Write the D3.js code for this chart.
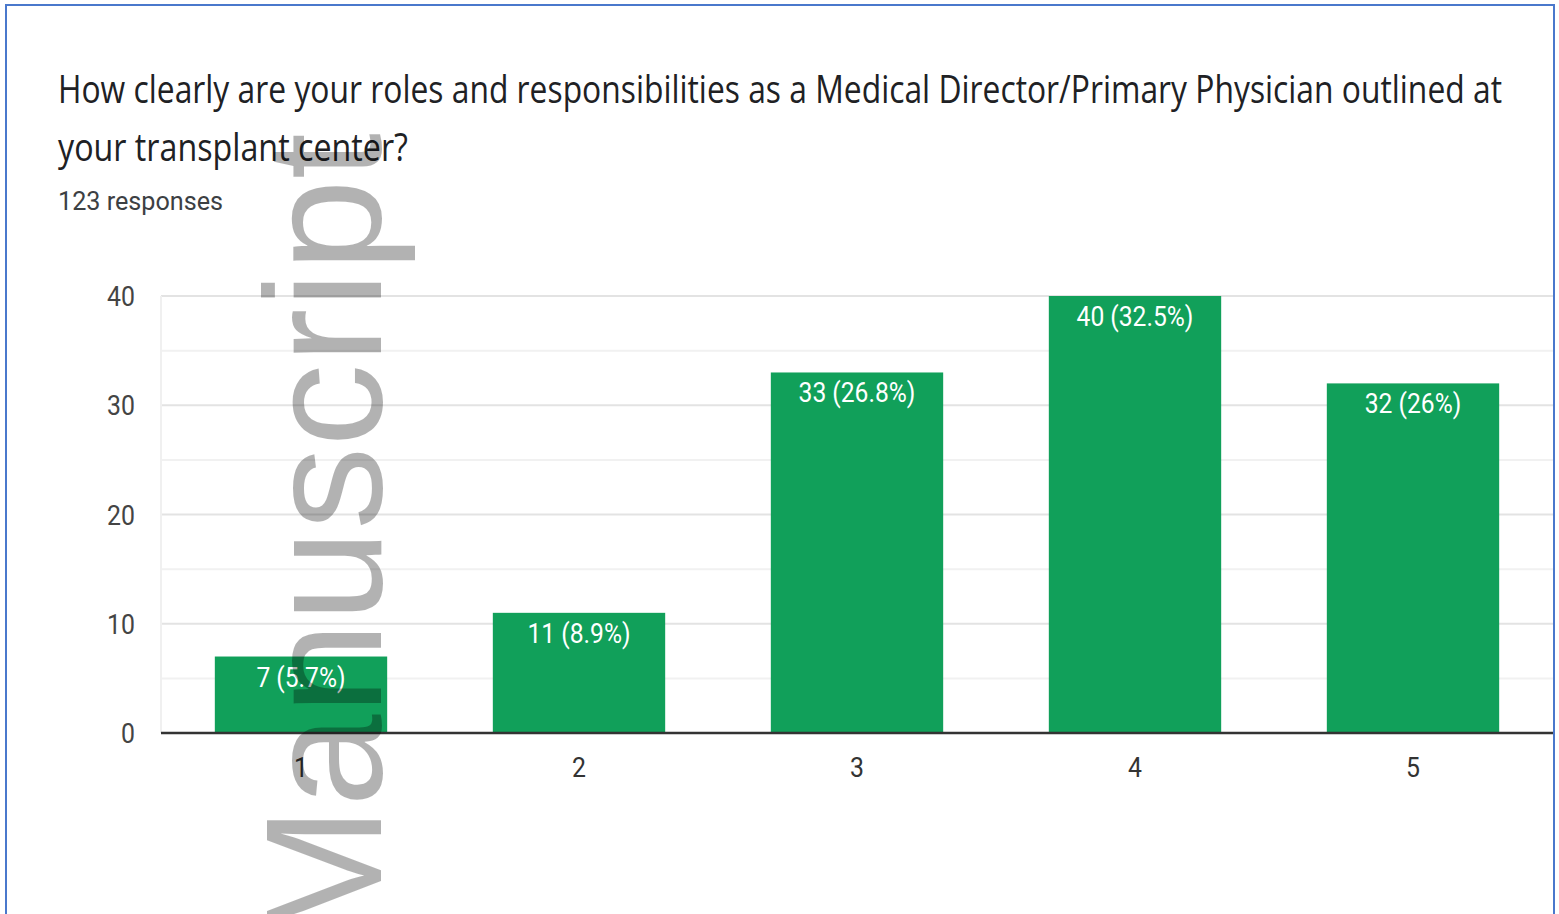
<!DOCTYPE html>
<html>
<head>
<meta charset="utf-8">
<script src="https://cdn.jsdelivr.net/npm/d3@7"></script>
<style>
  body { margin: 0; background: #fff; }
  svg { display: block; }
</style>
</head>
<body>
<svg id="chart"></svg>
<script>
/*global d3*/

const width = 1559;
const height = 914;

// data
const categories = ["1", "2", "3", "4", "5"];
const counts = [7, 11, 33, 40, 32];
const totalResponses = 123;
const yTicks = [0, 10, 20, 30, 40];
const gridValues = [5, 10, 15, 20, 25, 30, 35, 40];

const titleLines = [
    "How clearly are your roles and responsibilities as a Medical Director/Primary Physician outlined at",
    "your transplant center?"
];
const subtitle = totalResponses + " responses";

const plot = { left: 161, right: 1555, top: 296, bottom: 733 };

const svg = d3.select("#chart")
    .attr("width", width)
    .attr("height", height);

svg.append("rect")
    .attr("width", width)
    .attr("height", height)
    .attr("fill", "#fff");

// squeeze text horizontally (the source picture is a bit stretched)
function squeeze(sel, k) {
    sel.each(function () {
        const w = this.getComputedTextLength();
        d3.select(this)
            .attr("textLength", w * k)
            .attr("lengthAdjust", "spacingAndGlyphs");
    });
}

// title
const titleWidths = [1444, 350];
const titleBase = [103, 161];
titleLines.forEach((t, i) => {
    svg.append("text")
        .attr("class", "title")
        .attr("x", 58)
        .attr("y", titleBase[i])
        .attr("textLength", titleWidths[i])
        .attr("lengthAdjust", "spacingAndGlyphs")
        .style("font-family", "'Open Sans', sans-serif")
        .style("font-size", "39px")
        .style("fill", "#202124")
        .text(t);
});

svg.append("text")
    .attr("x", 58)
    .attr("y", 210)
    .attr("textLength", 165)
    .attr("lengthAdjust", "spacingAndGlyphs")
    .style("font-family", "Roboto, sans-serif")
    .style("font-size", "25px")
    .style("fill", "#3c4043")
    .text(subtitle);

const x = d3.scaleBand()
    .domain(categories)
    .range([162, 1552])
    .paddingInner(0.38)
    .paddingOuter(0.19);

const y = d3.scaleLinear()
    .domain([0, 40])
    .range([plot.bottom, plot.top]);

// gridlines
svg.append("g")
    .attr("class", "grid")
    .selectAll("line")
    .data(gridValues)
    .enter()
    .append("line")
    .attr("x1", plot.left)
    .attr("x2", plot.right)
    .attr("y1", d => y(d))
    .attr("y2", d => y(d))
    .attr("stroke", d => d % 10 === 0 ? "#e3e3e3" : "#f1f1f1")
    .attr("stroke-width", 2);

svg.append("line")
    .attr("x1", plot.left)
    .attr("x2", plot.left)
    .attr("y1", plot.top)
    .attr("y2", plot.bottom)
    .attr("stroke", "#f0f0f0")
    .attr("stroke-width", 2);

// bars
const data = categories.map((c, i) => ({ cat: c, value: counts[i] }));

svg.selectAll(".bar")
    .data(data)
    .enter()
    .append("rect")
    .attr("class", "bar")
    .attr("x", d => x(d.cat))
    .attr("y", d => y(d.value))
    .attr("width", x.bandwidth())
    .attr("height", d => y(0) - y(d.value))
    .attr("fill", "#11a05a");

svg.selectAll(".bar-label")
    .data(data)
    .enter()
    .append("text")
    .attr("class", "bar-label")
    .attr("x", d => x(d.cat) + x.bandwidth() / 2)
    .attr("y", d => y(d.value) + 30)
    .attr("text-anchor", "middle")
    .style("font-family", "Roboto, sans-serif")
    .style("font-size", "28px")
    .style("fill", "#fff")
    .text(d => `${d.value} (${+(d.value / totalResponses * 100).toFixed(1)}%)`)
    .call(squeeze, 0.88);

// axes
const yAxis = svg.append("g")
    .attr("transform", `translate(${plot.left},0)`)
    .call(d3.axisLeft(y).tickValues(yTicks).tickSize(0).tickPadding(26));
yAxis.select(".domain").remove();
yAxis.selectAll("text")
    .attr("dy", "0.36em")
    .style("font-family", "Roboto, sans-serif")
    .style("font-size", "27px")
    .style("fill", "#444")
    .call(squeeze, 0.92);

const xAxis = svg.append("g")
    .attr("transform", `translate(0,${plot.bottom})`)
    .call(d3.axisBottom(x).tickSize(0).tickPadding(25));
xAxis.select(".domain").remove();
xAxis.selectAll("text")
    .style("font-family", "Roboto, sans-serif")
    .style("font-size", "27px")
    .style("fill", "#333")
    .call(squeeze, 0.92);

svg.append("line")
    .attr("x1", plot.left)
    .attr("x2", plot.right)
    .attr("y1", plot.bottom)
    .attr("y2", plot.bottom)
    .attr("stroke", "#333")
    .attr("stroke-width", 2.5);

// watermark
svg.append("text")
    .attr("transform", "translate(381,945) rotate(-90)")
    .style("font-family", "'Liberation Sans', Arial, sans-serif")
    .style("font-size", "166px")
    .style("fill", "rgba(0,0,0,0.3)")
    .text("Manuscript");

// frame
svg.append("rect")
    .attr("x", 6)
    .attr("y", 5)
    .attr("width", 1548)
    .attr("height", 960)
    .attr("fill", "none")
    .attr("stroke", "#4a78cc")
    .attr("stroke-width", 2);
</script>
</body>
</html>
